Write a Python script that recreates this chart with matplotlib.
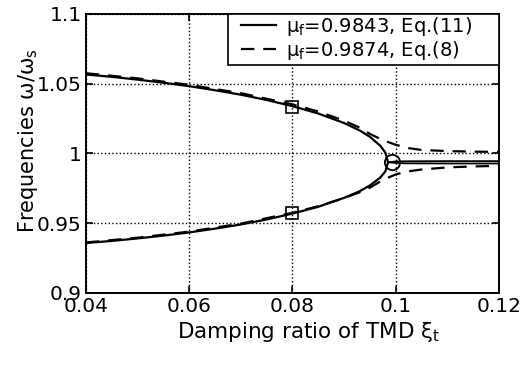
import numpy as np
import matplotlib
matplotlib.use('Agg')
import matplotlib.pyplot as plt
from matplotlib.patches import Rectangle

plt.rcParams['font.family'] = ['DejaVu Sans']
plt.rcParams['mathtext.fontset'] = 'dejavusans'

# solid curve, mu_f = 0.9843, Eq.(11) -- two branches merging near xi = 0.0985
xi_solid = [0.040, 0.045, 0.050, 0.055, 0.060, 0.065, 0.070, 0.075, 0.080,
            0.085, 0.090, 0.093, 0.095, 0.097, 0.098, 0.0985]
up_solid = [1.0566, 1.0549, 1.0529, 1.0507, 1.0482, 1.0453, 1.0421, 1.0383, 1.0339,
            1.0286, 1.0218, 1.0165, 1.0119, 1.0055, 1.0005, 0.9937]
lo_solid = [0.9358, 0.9373, 0.9391, 0.9411, 0.9434, 0.9461, 0.9491, 0.9527, 0.9569,
            0.9618, 0.9682, 0.9729, 0.9771, 0.9827, 0.9873, 0.9937]
# after the merge
xi_flat = [0.0985, 0.100, 0.102, 0.110, 0.120]
flat_a = [0.9937, 0.9942, 0.9944, 0.9945, 0.9945]
flat_b = [0.9937, 0.9932, 0.9929, 0.9928, 0.9928]

# dashed curve, mu_f = 0.9874, Eq.(8)
xi_dash = [0.040, 0.050, 0.060, 0.070, 0.080, 0.085, 0.090, 0.093, 0.095,
           0.0975, 0.100, 0.1025, 0.105, 0.110, 0.115, 0.120]
up_dash = [1.0575, 1.0538, 1.0492, 1.0432, 1.0352, 1.0300, 1.0235, 1.0185, 1.0140,
           1.0095, 1.0062, 1.0038, 1.0025, 1.0017, 1.0013, 1.0011]
lo_dash = [0.9362, 0.9396, 0.9440, 0.9497, 0.9575, 0.9622, 0.9680, 0.9722, 0.9755,
           0.9810, 0.9850, 0.9872, 0.9885, 0.9900, 0.9907, 0.9911]

# markers
sq_x = [0.080, 0.080]
sq_y = [1.0335, 0.9573]
circ_x = [0.0993]
circ_y = [0.9936]

xticks = [0.04, 0.06, 0.08, 0.1, 0.12]
xtick_labels = ['0.04', '0.06', '0.08', '0.1', '0.12']
yticks = [0.9, 0.95, 1.0, 1.05, 1.1]
ytick_labels = ['0.9', '0.95', '1', '1.05', '1.1']
legend_labels = [r'μ$_\mathrm{f}$=0.9843, Eq.(11)', r'μ$_\mathrm{f}$=0.9874, Eq.(8)']

fig = plt.figure(figsize=(5.27, 3.66), dpi=100)
ax = fig.add_axes([0.163, 0.1995, 0.784, 0.7625])

l1, = ax.plot(xi_solid, up_solid, 'k-', lw=1.6)
ax.plot(xi_solid, lo_solid, 'k-', lw=1.6)
ax.plot(xi_flat, flat_a, 'k-', lw=1.3)
ax.plot(xi_flat, flat_b, 'k-', lw=1.3)
l2, = ax.plot(xi_dash, up_dash, 'k--', lw=1.6, dashes=(6, 4))
ax.plot(xi_dash, lo_dash, 'k--', lw=1.6, dashes=(6, 4))

ax.plot(sq_x, sq_y, 'ks', mfc='none', ms=8, mew=1.2)
ax.plot(circ_x, circ_y, 'ko', mfc='none', ms=11, mew=1.3)

ax.set_xlim(0.04, 0.12)
ax.set_ylim(0.9, 1.1)
ax.set_xticks(xticks)
ax.set_xticklabels(xtick_labels)
ax.set_yticks(yticks)
ax.set_yticklabels(ytick_labels)
ax.grid(True, color='k', linestyle=':', linewidth=1.0)
ax.tick_params(direction='in', length=5, top=True, right=True, labelsize=14.5,
               width=1.2, pad=3)
for s in ax.spines.values():
    s.set_linewidth(1.4)

ax.set_xlabel(r'Damping ratio of TMD ξ$_\mathrm{t}$', fontsize=15.5, va='center')
ax.set_ylabel(r'Frequencies ω/ω$_\mathrm{s}$', fontsize=15, ha='center', va='center')
ax.xaxis.set_label_coords(0.54, -0.14)
ax.yaxis.set_label_coords(-0.14, 0.545)

# legend box drawn by hand (matlab style padding)
box = Rectangle((0.344, 0.817), 0.656, 0.183, transform=ax.transAxes,
                facecolor='white', edgecolor='k', lw=1.2, zorder=4, clip_on=False)
ax.add_patch(box)
leg = ax.legend([l1, l2], legend_labels,
                loc='upper right', bbox_to_anchor=(0.935, 0.995), fontsize=14,
                frameon=False, borderaxespad=0.0, handlelength=1.8,
                handletextpad=0.5, labelspacing=0.05, borderpad=0.0)
leg.set_zorder(5)

fig.savefig('out.png', dpi=100)
